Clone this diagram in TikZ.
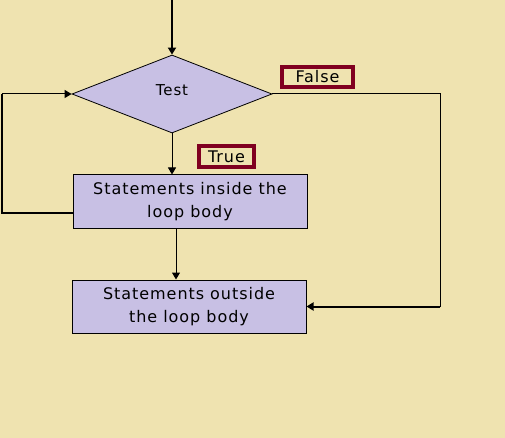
\documentclass[tikz,border=0pt]{standalone}
\usepackage{fontspec}
\setmainfont{DejaVu Sans}
\newfontfamily\boxfont[LetterSpace=6]{DejaVu Sans}
\usetikzlibrary{shapes.geometric,arrows.meta}
\definecolor{paper}{RGB}{239,227,176}
\definecolor{lilac}{RGB}{200,192,228}
\definecolor{wine}{RGB}{128,0,32}

\begin{document}
\begin{tikzpicture}[x=1pt,y=-1pt,
    tip/.style={-{Triangle[width=8pt,length=7pt]}},
    stmt/.style={draw,fill=lilac,line width=1pt,minimum width=234pt,minimum height=53pt,inner sep=0pt,align=center,font=\boxfont\fontsize{16}{23}\selectfont},
    tag/.style={draw=wine,line width=4pt,minimum width=71pt,minimum height=20pt,inner sep=0pt,font=\boxfont\fontsize{16}{16}\selectfont}]
      \fill[paper] (0,0) rectangle (505,438);
      \useasboundingbox (0,0) rectangle (505,438);
      \node[diamond,draw,fill=lilac,line width=0.8pt,minimum width=200pt,minimum height=78pt,inner sep=0pt,font=\boxfont\fontsize{15}{16}\selectfont] (test) at (172,94) {\raisebox{7pt}{Test}};
      \node[stmt] (inside) at (190,201.5) {Statements inside the\\loop body};
      \node[stmt] (outside) at (189,306.5) {Statements outside\\the loop body};
      \node[tag] (false) at (317.5,77) {False};
      \node[tag,minimum width=55pt,minimum height=21pt] (true) at (226.5,156.5) {True};
      \coordinate (entry) at (172,0);
      \coordinate (loopout) at (73,213);
      \coordinate (exitcorner) at (440,94);
      \draw[tip,line width=2pt] (entry) -- (test.north);
      \draw[tip,line width=1pt] (test.south) -- (test.south |- inside.north);
      \draw[tip,line width=1pt] (inside.south -| 176,0) -- (outside.north -| 176,0);
      % loop back
      \draw[line width=2pt] (loopout) -- (2,213) -- (2,94);
      \draw[tip,line width=1pt] (2,94) -- (test.west);
      % exit
      \draw[line width=1pt] (test.east) -- (exitcorner) -- (exitcorner |- outside.east);
      \draw[tip,line width=2pt] (exitcorner |- outside.east) -- (outside.east);
\end{tikzpicture}
\end{document}
